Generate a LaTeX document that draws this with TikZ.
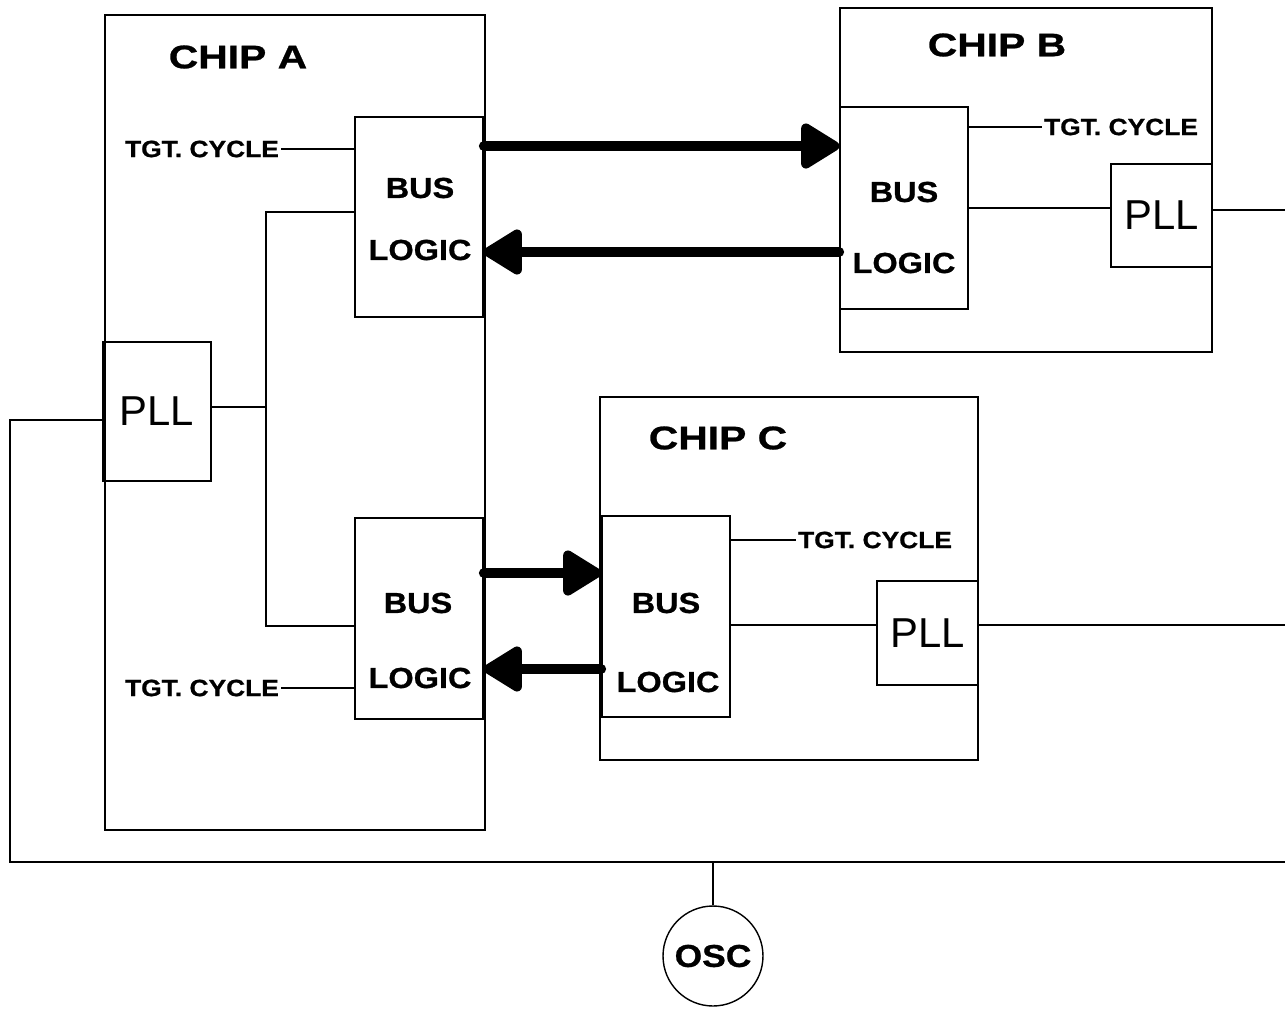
\documentclass[tikz,border=0pt]{standalone}
\usepackage{fontspec}
\setsansfont{Liberation Sans}
\newfontfamily\chipfont[FakeStretch=1.25, FakeBold=0.8]{Liberation Sans}
\newfontfamily\widefont[FakeStretch=1.12, FakeBold=0.8]{Liberation Sans}
\usetikzlibrary{arrows.meta}

\begin{document}
\begin{tikzpicture}[
    x=0.02cm, y=-0.02cm,
    chip/.style={rectangle, draw, line width=0.8pt},
    buslogic/.style={rectangle, draw, line width=0.8pt, minimum width=2.56cm, minimum height=4.02cm},
    pll/.style={rectangle, draw, line width=0.8pt, inner sep=0pt, font=\sffamily\fontsize{23.8}{26}\selectfont},
    title/.style={font=\chipfont\bfseries\fontsize{18.6}{20}\selectfont},
    buslabel/.style={font=\widefont\bfseries\fontsize{16.5}{18}\selectfont},
    tgt/.style={inner sep=1pt, font=\widefont\bfseries\fontsize{13.4}{15}\selectfont},
    wire/.style={line width=0.75pt},
    bus_arrow/.style={-{Triangle[length=0.86cm, width=1cm, round]}, line width=5.5pt, line cap=round}
  ]
    \useasboundingbox (0,0) rectangle (1285,1008);

    % Chips
    \node[chip, minimum width=7.6cm, minimum height=16.3cm] (chipA) at (295,422.5) {};
    \node[chip, minimum width=7.44cm, minimum height=6.88cm] (chipB) at (1026,180) {};
    \node[chip, minimum width=7.56cm, minimum height=7.26cm] (chipC) at (789,578.5) {};
    \node[title] (titleA) at (238,57) {CHIP A};
    \node[title] (titleB) at (997,45) {CHIP B};
    \node[title] (titleC) at (718,438) {CHIP C};

    % Bus logic blocks
    \node[buslogic, minimum height=4cm] (busA1) at (419,217) {};
    \node[buslogic] (busA2) at (419,618.5) {};
    \node[buslogic, minimum height=4.04cm] (busB) at (904,208) {};
    \node[buslogic] (busC) at (666,616.5) {};
    \node[buslabel] (busA1top) at (420,188) {BUS};
    \node[buslabel] (busA1bot) at (420,250) {LOGIC};
    \node[buslabel] (busA2top) at (418,603) {BUS};
    \node[buslabel] (busA2bot) at (420,678) {LOGIC};
    \node[buslabel] (busBtop) at (904,192) {BUS};
    \node[buslabel] (busBbot) at (904,263) {LOGIC};
    \node[buslabel] (busCtop) at (666,603) {BUS};
    \node[buslabel] (busCbot) at (668,682) {LOGIC};

    % PLLs
    \node[pll, minimum width=2.16cm, minimum height=2.78cm] (pllA) at (157,411.5) {PLL};
    \node[pll, minimum width=2.02cm, minimum height=2.06cm] (pllB) at (1161.5,215.5) {PLL};
    \node[pll, minimum width=2.02cm, minimum height=2.08cm] (pllC) at (927.5,633) {PLL};

    % Oscillator
    \node[circle, draw, line width=0.8pt, minimum size=2cm, inner sep=0pt, buslabel, font=\widefont\bfseries\fontsize{18}{20}\selectfont] (osc) at (713,956) {OSC};

    % Target cycle inputs
    \node[tgt, anchor=east] (tgtA1) at (281,149) {TGT. CYCLE};
    \node[tgt, anchor=east] (tgtA2) at (281,688) {TGT. CYCLE};
    \node[tgt, anchor=west] (tgtB) at (1042,127) {TGT. CYCLE};
    \node[tgt, anchor=west] (tgtC) at (796,540) {TGT. CYCLE};
    \draw[wire] (tgtA1.east) -- (tgtA1.east -| busA1.west);
    \draw[wire] (tgtA2.east) -- (tgtA2.east -| busA2.west);
    \draw[wire] (tgtB.west -| busB.east) -- (tgtB.west);
    \draw[wire] (tgtC.west -| busC.east) -- (tgtC.west);

    % Clock distribution
    \coordinate (split) at (266,407);
    \coordinate (busL) at (10,862);
    \coordinate (busR) at (1285,862);
    \coordinate (outB) at (1285,210);
    \coordinate (outC) at (1285,625);
    \draw[wire] (pllA.east |- split) -- (split);
    \draw[wire] ([yshift=0.1cm]busA1.west) -| (split) |- ([yshift=-0.15cm]busA2.west);
    \draw[wire] ([yshift=-0.17cm]pllA.west) -| (busL) -- (busR);
    \draw[wire] (osc.north) -- (osc.north |- busR);
    \draw[wire] (busB.east) -- (busB.east -| pllB.west);
    \draw[wire] (outB -| pllB.east) -- (outB);
    \draw[wire] (outC -| busC.east) -- (outC -| pllC.west);
    \draw[wire] (outC -| pllC.east) -- (outC);

    % Bus transfers
    \draw[bus_arrow] ([yshift=1.42cm]busA1.east) -- ([yshift=1.24cm]busB.west);
    \draw[bus_arrow] ([yshift=-0.88cm]busB.west) -- ([yshift=-0.7cm]busA1.east);
    \draw[bus_arrow] ([yshift=0.91cm]busA2.east) -- ([yshift=0.87cm]busC.west);
    \draw[bus_arrow] ([yshift=-1.05cm]busC.west) -- ([yshift=-1.01cm]busA2.east);

  \end{tikzpicture}
\end{document}
